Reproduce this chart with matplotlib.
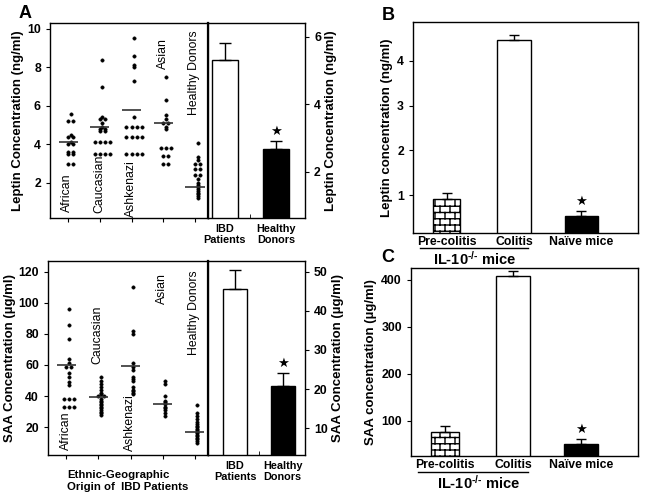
import warnings
import numpy as np
import matplotlib
matplotlib.use("Agg")
import matplotlib.pyplot as plt
from matplotlib import hatch as mhatch
from matplotlib.lines import Line2D

warnings.filterwarnings("ignore")
plt.rcParams['font.family'] = ['Liberation Sans', 'DejaVu Sans']
plt.rcParams['hatch.linewidth'] = 1.0
plt.rcParams['mathtext.fontset'] = 'custom'
plt.rcParams['mathtext.rm'] = 'Liberation Sans:bold'
plt.rcParams['mathtext.bf'] = 'Liberation Sans:bold'
plt.rcParams['mathtext.default'] = 'bf'

# ---- data -------------------------------------------------------------
groups = ["African", "Caucasian", "Ashkenazi", "Asian", "Healthy Donors"]

leptin_pts = [
    [5.6, 5.2, 5.2, 4.5, 4.4, 4.4, 4.1, 4.0, 4.0, 3.6, 3.6, 3.5, 3.5, 3.0, 3.0],
    [8.4, 7.0, 5.4, 5.3, 5.3, 5.1, 4.9, 4.8, 4.8, 4.7, 4.7, 4.1, 4.1, 4.1, 4.1,
     3.5, 3.5, 3.5, 3.5],
    [9.5, 8.6, 8.1, 8.0, 7.3, 5.4, 4.9, 4.9, 4.9, 4.9, 4.4, 4.4, 4.4, 4.4,
     3.5, 3.5, 3.5, 3.5],
    [7.5, 6.3, 5.5, 5.3, 5.1, 5.1, 4.9, 4.8, 3.8, 3.8, 3.8, 3.4, 3.4, 3.0, 3.0],
    [4.05, 3.35, 3.2, 3.0, 3.0, 2.7, 2.7, 2.4, 2.4, 2.2, 2.0, 1.9, 1.8, 1.7,
     1.6, 1.5, 1.4, 1.3, 1.2],
]
leptin_mid = [4.1, 4.9, 5.8, 5.1, 1.8]

saa_pts = [
    [96, 86, 77, 64, 61, 59, 59, 55, 52, 49, 47, 38, 38, 38, 33, 33, 33],
    [52, 50, 48, 46, 44, 42, 41, 40, 40, 38, 37, 36, 35, 34, 33, 32, 31, 30,
     29, 28],
    [110, 82, 80, 61, 59, 57, 52, 51, 50, 46, 44, 43, 42, 41],
    [50, 48, 40, 37, 36, 35, 33, 32, 31, 29, 27],
    [34, 29, 27, 25, 23, 22, 21, 20, 19, 18, 17, 16, 15, 14, 13, 12, 11, 10],
]
saa_mid = [59.8, 39.4, 59.6, 34.6, 16.8]

a_bars = ["IBD\nPatients", "Healthy\nDonors"]
a_leptin = [5.32, 2.68]
a_leptin_err = [0.5, 0.22]
a_saa = [45.6, 20.8]
a_saa_err = [4.9, 3.2]

mice = ["Pre-colitis", "Colitis", "Naïve mice"]
b_leptin = [0.91, 4.47, 0.53]
b_leptin_err = [0.13, 0.11, 0.11]
c_saa = [76.6, 408.5, 51]
c_saa_err = [12, 10.5, 11]


# brick hatch ('b')
class BrickHatch(mhatch.HatchPatternBase):
    rows, cols = 16, 10

    def __init__(self, hatch, density):
        on = 'b' in hatch
        self.num_vertices = (self.rows * 2 + self.rows * self.cols * 2) if on else 0

    def set_vertices_and_codes(self, vertices, codes):
        k = 0
        for r in range(self.rows):
            y0, y1 = r / self.rows, (r + 1) / self.rows
            vertices[k] = (0, y0); vertices[k + 1] = (1, y0)
            codes[k] = mhatch.Path.MOVETO; codes[k + 1] = mhatch.Path.LINETO
            k += 2
            for j in range(self.cols):
                x = (j + 0.5 * (r % 2)) / self.cols
                vertices[k] = (x, y0); vertices[k + 1] = (x, y1)
                codes[k] = mhatch.Path.MOVETO; codes[k + 1] = mhatch.Path.LINETO
                k += 2


mhatch._hatch_types.append(BrickHatch)


def rows_layout(values, center, step=0.16):
    xs, ys = [], []
    uniq = sorted(set(values), reverse=True)
    for v in uniq:
        n = values.count(v)
        for k in range(n):
            xs.append(center + (k - (n - 1) / 2) * step)
            ys.append(v)
    return xs, ys


fig = plt.figure(figsize=(6.45, 4.93), dpi=100)
W, H = 645, 493


def box(x0, x1, y0, y1):
    return [x0 / W, 1 - y1 / H, (x1 - x0) / W, (y1 - y0) / H]


def scatter_panel(ax, pts, mids, ylim, yticks, label_pos, ylabel):
    pos = np.arange(1, 6)
    for p, vals, m in zip(pos, pts, mids):
        xs, ys = rows_layout(vals, p + 0.08)
        ax.plot(xs, ys, 'o', ms=2.4, color='black', mec='black', mew=0.4)
        ax.hlines(m, p - 0.3, p + 0.3, color='#333333', lw=1.2)
    for p, g, (yy, va) in zip(pos, groups, label_pos):
        ax.text(p - 0.02, yy, g, rotation=90, ha='center', va=va, fontsize=8.8)
    ax.set_xlim(0.43, 5.41)
    ax.set_ylim(*ylim)
    ax.set_xticks(pos)
    ax.set_xticklabels([])
    ax.set_yticks(yticks)
    ax.tick_params(axis='both', direction='out', length=3, width=0.8,
                   labelsize=8.8)
    for t in ax.get_yticklabels():
        t.set_fontweight('bold')
    for s in ['left', 'top', 'bottom']:
        ax.spines[s].set_linewidth(1.0)
    ax.spines['right'].set_linewidth(1.6)
    ax.set_ylabel(ylabel, fontsize=9.5, fontweight='bold', labelpad=2)


def bar_panel(ax, vals, errs, xlim, ylim, yticks, ylabel):
    x = np.arange(len(vals))
    ax.bar(x, vals, width=0.5, color=['white', 'black'], edgecolor='black',
           lw=1.0, yerr=[np.zeros(len(vals)), errs], capsize=4,
           error_kw=dict(lw=1.0, capthick=1.0, ecolor='black'))
    ax.annotate('★', (x[1], vals[1] + errs[1]), xytext=(0, 7),
                textcoords='offset points', ha='center', va='center',
                fontsize=9.5, family='DejaVu Sans')
    ax.set_xlim(*xlim)
    ax.set_ylim(*ylim)
    ax.set_xticks(x)
    ax.set_xticklabels(a_bars, fontsize=7.8, fontweight='bold')
    ax.set_xticks([0.5], minor=True)
    ax.tick_params(axis='x', which='major', length=0, pad=4)
    ax.tick_params(axis='x', which='minor', length=3, direction='in')
    ax.yaxis.tick_right()
    ax.yaxis.set_label_position('right')
    ax.set_yticks(yticks)
    ax.tick_params(axis='y', direction='out', length=3, labelsize=8.8)
    for t in ax.get_yticklabels():
        t.set_fontweight('bold')
    for s in ax.spines.values():
        s.set_linewidth(1.0)
    ax.set_ylabel(ylabel, fontsize=9.5, fontweight='bold', labelpad=3)


# ---- panel A -----------------------------------------------------------
ax1 = fig.add_axes(box(50, 208, 23, 218))
scatter_panel(ax1, leptin_pts, leptin_mid, (0.18, 10.3), [2, 4, 6, 8, 10],
              [(0.5, 'bottom'), (0.45, 'bottom'), (0.25, 'bottom'),
               (9.5, 'top'), (9.9, 'top')],
              'Leptin Concentration (ng/ml)')
ax2 = fig.add_axes(box(208, 305, 23, 218))
bar_panel(ax2, a_leptin, a_leptin_err, (-0.33, 1.57), (0.64, 6.4), [2, 4, 6],
          'Leptin Concentration (ng/ml)')

ax3 = fig.add_axes(box(48, 208, 261, 455))
scatter_panel(ax3, saa_pts, saa_mid, (2, 127), [20, 40, 60, 80, 100, 120],
              [(5.0, 'bottom'), (98, 'top'), (4.5, 'bottom'),
               (119, 'top'), (121, 'top')],
              'SAA Concentration (µg/ml)')
ax3.text(0.12, -0.075, 'Ethnic-Geographic\nOrigin of  IBD Patients',
         transform=ax3.transAxes, ha='left', va='top', fontsize=8.2,
         fontweight='bold', linespacing=1.35)
ax4 = fig.add_axes(box(208, 305, 261, 455))
bar_panel(ax4, a_saa, a_saa_err, (-0.57, 1.47), (3.1, 52.8),
          [10, 20, 30, 40, 50], 'SAA Concentration (µg/ml)')


# ---- panels B and C ----------------------------------------------------
def mice_panel(ax, vals, errs, ylim, yticks, ylabel, line_y, line_x, txt_xy):
    x = np.arange(1, 4)
    bars = ax.bar(x, vals, width=[0.4, 0.5, 0.5], color=['white', 'white', 'black'],
                  edgecolor='black', lw=1.0, yerr=[np.zeros(3), errs],
                  capsize=3.5, error_kw=dict(lw=1.0, capthick=1.0, ecolor='black'))
    bars[0].set_hatch('b')
    ax.annotate('★', (x[2], vals[2] + errs[2]), xytext=(0, 7),
                textcoords='offset points', ha='center', va='center',
                fontsize=9.5, family='DejaVu Sans')
    ax.set_xlim(0.5, 3.84)
    ax.set_ylim(*ylim)
    ax.set_xticks(x)
    ax.set_xticklabels(mice, fontsize=8.8, fontweight='bold')
    ax.tick_params(axis='x', length=0, pad=2)
    ax.set_yticks(yticks)
    ax.tick_params(axis='y', direction='out', length=3, labelsize=8.8)
    for t in ax.get_yticklabels():
        t.set_fontweight('bold')
    for s in ax.spines.values():
        s.set_linewidth(1.0)
    ax.set_ylabel(ylabel, fontsize=9.5, fontweight='bold', labelpad=3)
    ax.add_line(Line2D(line_x, [line_y, line_y], transform=ax.transAxes,
                       color='black', lw=1.0, clip_on=False))
    ax.text(txt_xy[0], txt_xy[1], r'IL-10$^{\text{-/-}}$ mice',
            transform=ax.transAxes, ha='center', va='center', fontsize=10.5,
            fontweight='bold')


axb = fig.add_axes(box(413, 638, 22, 233))
mice_panel(axb, b_leptin, b_leptin_err, (0.15, 4.87), [1, 2, 3, 4],
           'Leptin concentration (ng/ml)', -0.071, [0.031, 0.511],
           (0.276, -0.123))
axc = fig.add_axes(box(411, 638, 268, 456))
mice_panel(axc, c_saa, c_saa_err, (25.5, 425), [100, 200, 300, 400],
           'SAA concentration (µg/ml)', -0.085, [0.031, 0.515],
           (0.30, -0.144))

fig.text(25 / W, 1 - 13 / H, 'A', fontsize=13, fontweight='bold',
         ha='center', va='center')
fig.text(388 / W, 1 - 15 / H, 'B', fontsize=13, fontweight='bold',
         ha='center', va='center')
fig.text(388 / W, 1 - 258 / H, 'C', fontsize=13, fontweight='bold',
         ha='center', va='center')

fig.savefig('out.png', dpi=100)
